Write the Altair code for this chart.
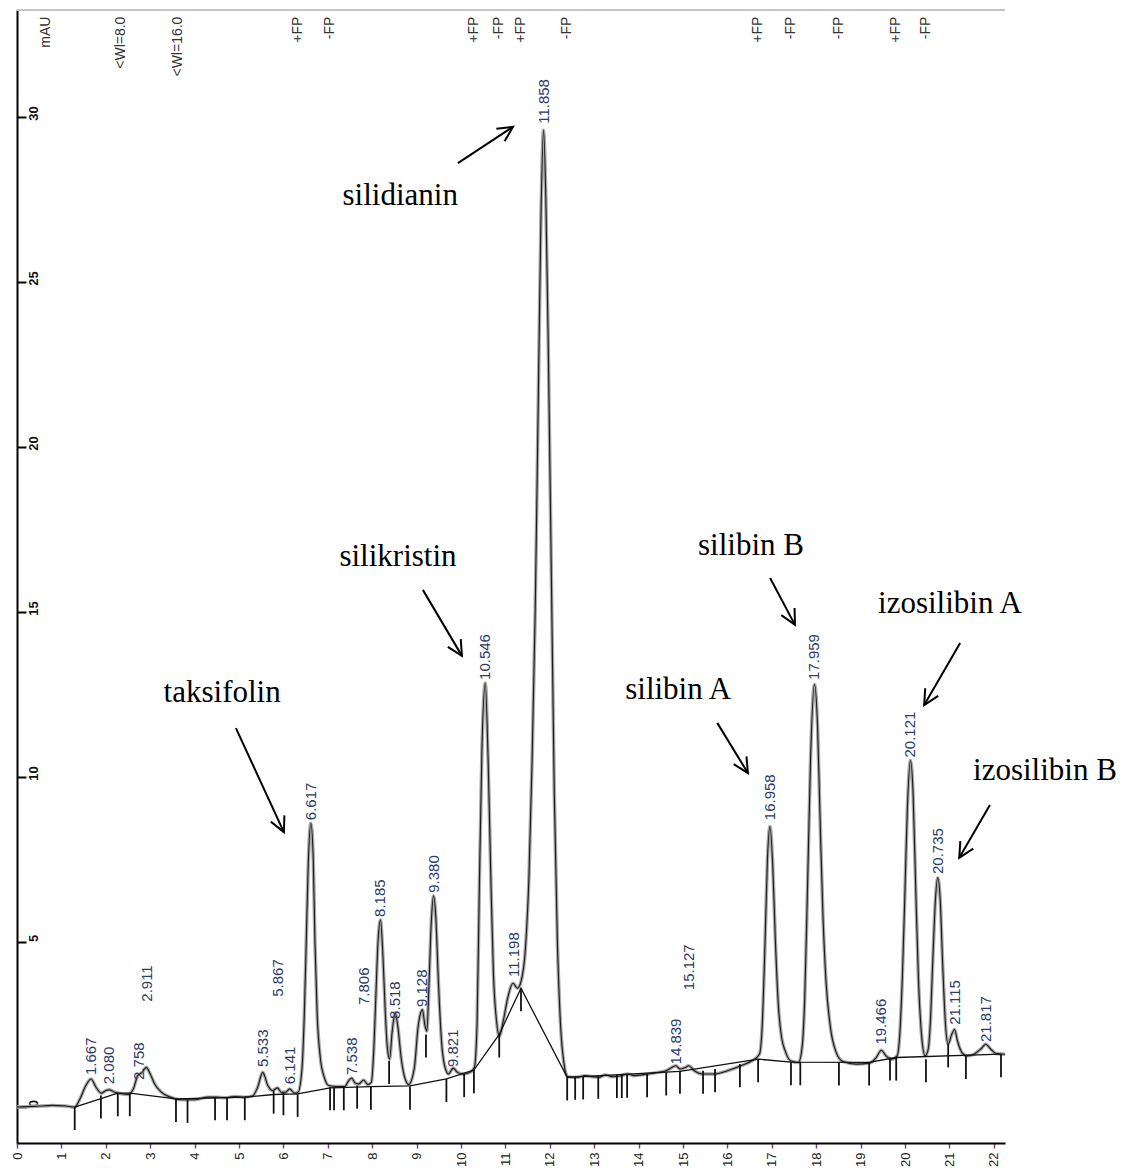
import math
import altair as alt
import pandas as pd

# ---------------- data ----------------
trace_t = [0.0, 0.4, 0.8, 1.1, 1.3, 1.42, 1.55, 1.667, 1.78, 1.9, 2.0, 2.08, 2.2, 2.35, 2.5,
           2.62, 2.72, 2.76, 2.82, 2.91, 3.0, 3.1, 3.25, 3.45, 3.7, 4.0, 4.3, 4.5, 4.7, 4.9,
           5.1, 5.3, 5.42, 5.533, 5.65, 5.75, 5.867, 5.95, 6.05, 6.141, 6.25, 6.33,
           6.42, 6.47, 6.51, 6.56, 6.617, 6.67, 6.71, 6.76, 6.83, 6.92, 7.02,
           7.2, 7.38, 7.47, 7.538, 7.62, 7.7, 7.806, 7.9, 7.98,
           8.03, 8.08, 8.13, 8.185, 8.24, 8.29, 8.34, 8.39, 8.45, 8.518, 8.58, 8.65, 8.72, 8.82,
           8.95, 9.03, 9.09, 9.128, 9.19, 9.23, 9.28, 9.33, 9.38, 9.43, 9.49, 9.56, 9.63, 9.72,
           9.821, 9.92, 10.05, 10.2, 10.3, 10.36, 10.41, 10.47, 10.546, 10.61, 10.67, 10.73, 10.8,
           10.86, 10.95, 11.05, 11.17, 11.27, 11.35, 11.45, 11.53, 11.6, 11.67, 11.74, 11.8,
           11.858, 11.91, 11.97, 12.04, 12.1, 12.17, 12.24, 12.32, 12.4,
           12.6, 12.8, 12.95, 13.1, 13.25, 13.4, 13.6, 13.75, 13.9, 14.2, 14.45, 14.62, 14.75,
           14.839, 14.93, 15.05, 15.127, 15.25, 15.45, 15.7, 16.0, 16.3, 16.55, 16.72,
           16.78, 16.84, 16.9, 16.958, 17.02, 17.08, 17.15, 17.22, 17.3, 17.42,
           17.6, 17.68, 17.74, 17.8, 17.87, 17.959, 18.03, 18.09, 18.15, 18.22, 18.32, 18.45, 18.6,
           18.9, 19.2, 19.35, 19.466, 19.57, 19.7, 19.82,
           19.88, 19.94, 19.99, 20.05, 20.121, 20.18, 20.24, 20.3, 20.37, 20.45,
           20.52, 20.57, 20.62, 20.68, 20.735, 20.79, 20.85, 20.91, 20.97,
           21.05, 21.115, 21.18, 21.28, 21.4, 21.55, 21.7, 21.817, 21.93, 22.05, 22.25]
trace_v = [0.0, 0.02, 0.05, 0.03, 0.0, 0.25, 0.65, 0.85, 0.6, 0.42, 0.5, 0.52, 0.45, 0.4, 0.38,
           0.55, 0.95, 1.0, 1.05, 1.2, 1.0, 0.7, 0.45, 0.3, 0.22, 0.22, 0.3, 0.3, 0.28, 0.32,
           0.3, 0.33, 0.6, 1.05, 0.65, 0.5, 0.58, 0.45, 0.45, 0.55, 0.42, 0.45,
           1.2, 2.8, 4.8, 7.4, 8.6, 7.6, 5.0, 2.8, 1.5, 0.9, 0.65,
           0.62, 0.62, 0.8, 0.88, 0.72, 0.7, 0.82, 0.68, 0.75,
           1.6, 3.3, 5.0, 5.67, 4.6, 3.0, 1.8, 1.45, 2.3, 2.85, 2.4, 1.5, 0.95, 0.68,
           1.2, 2.4, 2.85, 2.95, 2.45, 2.3, 3.8, 5.6, 6.4, 5.8, 3.8, 2.0, 1.25, 1.0,
           1.18, 1.05, 1.0, 1.05, 1.2, 2.5, 6.5, 10.8, 12.85, 10.5, 7.0, 4.0, 2.6,
           2.15, 2.6, 3.3, 3.75, 3.6, 3.8, 4.8, 7.0, 10.5, 15.0, 21.5, 27.0,
           29.6, 27.5, 22.5, 15.5, 9.5, 5.0, 2.5, 1.3, 0.92,
           0.9, 0.95, 0.92, 0.9, 0.97, 0.92, 0.95, 1.0, 0.95, 1.0, 1.05, 1.1, 1.2,
           1.25, 1.15, 1.2, 1.25, 1.1, 1.0, 1.0, 1.1, 1.25, 1.4, 1.6,
           2.4, 4.7, 7.5, 8.5, 7.3, 5.0, 3.0, 2.1, 1.7, 1.4,
           1.35, 1.8, 3.3, 6.5, 10.5, 12.8, 11.5, 8.5, 5.8, 3.8, 2.4, 1.65, 1.38,
           1.3, 1.33, 1.5, 1.72, 1.55, 1.45, 1.55,
           2.2, 4.0, 6.2, 9.0, 10.5, 9.5, 6.6, 3.9, 2.2, 1.55,
           1.75, 2.6, 4.3, 6.2, 6.95, 6.3, 4.2, 2.5, 1.9,
           2.2, 2.35, 2.0, 1.65, 1.55, 1.6, 1.75, 1.9, 1.75, 1.62, 1.6]

# integration baseline drawn under the peaks
base_t = [1.3, 2.27, 2.54, 3.58, 5.13, 5.78, 6.32, 7.05, 7.98, 8.85, 9.67, 10.29, 10.86,
          11.35, 12.39, 14.93, 16.69, 17.43, 19.19, 19.8, 22.16]
base_v = [0.0, 0.42, 0.42, 0.25, 0.3, 0.38, 0.4, 0.58, 0.62, 0.64, 0.85, 1.12, 2.2,
          3.6, 0.9, 1.08, 1.45, 1.36, 1.35, 1.5, 1.6]

# peak start / end markers (time, top of marker)
tick_t = [1.3, 1.89, 2.27, 2.54, 3.58, 3.84, 4.46, 4.73, 5.13, 5.78, 6.0, 6.32, 7.05, 7.14,
          7.36, 7.66, 7.97, 8.38, 8.85, 9.21, 9.67, 10.07, 10.29, 10.86, 11.35, 12.39, 12.57,
          12.75, 13.09, 13.51, 13.62, 13.74, 14.19, 14.62, 14.93, 15.45, 15.72, 16.28, 16.69,
          17.43, 17.64, 18.51, 19.19, 19.66, 19.8, 20.47, 20.97, 21.37, 22.16]
tick_top = [0.0, 0.35, 0.42, 0.42, 0.25, 0.22, 0.3, 0.3, 0.3, 0.5, 0.45, 0.4, 0.6, 0.6,
            0.6, 0.65, 0.62, 1.4, 0.62, 2.2, 0.85, 1.0, 1.12, 2.2, 3.6, 0.9, 0.92,
            0.93, 0.95, 0.97, 0.97, 0.98, 1.0, 1.05, 1.1, 1.1, 1.15, 1.3, 1.45,
            1.36, 1.36, 1.35, 1.35, 1.5, 1.5, 1.45, 1.9, 1.55, 1.6]

# retention-time labels (text, time, height where the label starts)
label_text = ["1.667", "2.080", "2.758", "2.911", "5.533", "5.867", "6.141", "6.617", "7.538",
              "7.806", "8.185", "8.518", "9.128", "9.380", "9.821", "10.546", "11.198", "11.858",
              "14.839", "15.127", "16.958", "17.959", "19.466", "20.121", "20.735", "21.115",
              "21.817"]
label_t = [1.667, 2.08, 2.758, 2.93, 5.533, 5.867, 6.141, 6.617, 7.538,
           7.82, 8.185, 8.518, 9.128, 9.38, 9.821, 10.546, 11.198, 11.858,
           14.839, 15.127, 16.958, 17.959, 19.466, 20.121, 20.735, 21.115, 21.817]
label_y = [0.88, 0.6, 0.73, 3.1, 1.12, 3.25, 0.6, 8.6, 0.88,
           3.0, 5.67, 2.58, 2.94, 6.4, 1.12, 12.85, 3.85, 29.7,
           1.2, 3.45, 8.6, 12.85, 1.8, 10.5, 6.97, 2.4, 1.88]

# event markers along the top
event_text = ["mAU", "<Wl=8.0", "<Wl=16.0", "+FP", "-FP", "+FP", "-FP", "+FP", "-FP",
              "+FP", "-FP", "-FP", "+FP", "-FP"]
event_t = [0.66, 2.35, 3.62, 6.32, 7.05, 10.29, 10.86, 11.35, 12.39,
           16.69, 17.43, 18.51, 19.8, 20.47]

# compound annotations with arrows
ann_text = ["silidianin", "silikristin", "taksifolin", "silibin A", "silibin B",
            "izosilibin A", "izosilibin B"]
ann_t = [8.63, 8.58, 4.62, 14.89, 16.53, 21.01, 23.15]
ann_v = [27.6, 16.67, 12.55, 12.64, 17.0, 15.24, 10.18]
arrow_t1 = [9.93, 9.14, 4.93, 15.77, 16.96, 21.24, 21.91]
arrow_v1 = [28.6, 15.67, 11.48, 11.64, 16.03, 14.06, 9.15]
arrow_t2 = [11.17, 10.02, 6.01, 16.46, 17.52, 20.43, 21.22]
arrow_v2 = [29.7, 13.67, 8.33, 10.12, 14.61, 12.18, 7.55]

x_ticks = list(range(0, 23))
y_ticks = [0, 5, 10, 15, 20, 25, 30]

# ---------------- layout ----------------
W, H = 988, 1133
X_DOMAIN = [0, 22.25]
Y_DOMAIN = [-1.09, 33.24]
xs = alt.Scale(domain=X_DOMAIN, nice=False, zero=False)
ys = alt.Scale(domain=Y_DOMAIN, nice=False, zero=False)
PX_T = W / (X_DOMAIN[1] - X_DOMAIN[0])
PX_V = H / (Y_DOMAIN[1] - Y_DOMAIN[0])

trace_df = pd.DataFrame({"t": trace_t, "v": trace_v})
base_df = pd.DataFrame({"t": base_t, "v": base_v})
tick_df = pd.DataFrame({"t": tick_t, "top": tick_top})
tick_df["bot"] = tick_df["top"] - 0.7
label_df = pd.DataFrame({"text": label_text, "t": label_t, "v": label_y})
event_df = pd.DataFrame({"text": event_text, "t": event_t})
event_df["v"] = Y_DOMAIN[1] - 0.2
ann_df = pd.DataFrame({"text": ann_text, "t": ann_t, "v": ann_v})
arrow_df = pd.DataFrame({"t1": arrow_t1, "v1": arrow_v1, "t2": arrow_t2, "v2": arrow_v2})
arrow_df["ang"] = [
    math.degrees(math.atan2((b - a) * PX_T, (d - c) * PX_V)) % 360
    for a, b, c, d in zip(arrow_t1, arrow_t2, arrow_v1, arrow_v2)
]

x_axis = alt.Axis(values=x_ticks, labelAngle=270, labelAlign="right", labelBaseline="middle",
                  labelPadding=4, tickSize=5, tickColor="#7a3f9a", tickWidth=1.5,
                  domainColor="black", domainWidth=2, labelFontSize=13, labelColor="#222222",
                  labelFont="Liberation Sans", labelFlush=False, labelOverlap=False,
                  title=None, grid=False)
y_axis = alt.Axis(orient="right", offset=-W, values=y_ticks, labelAngle=270,
                  labelAlign="center", labelBaseline="top", labelPadding=1, labelOffset=-4,
                  tickSize=9, tickWidth=2, tickColor="black", domainColor="black",
                  domainWidth=2, labelFontSize=13, labelFontWeight="bold",
                  labelFont="Liberation Sans", labelColor="#111111", labelFlush=False,
                  labelOverlap=False, title=None, grid=False)


def X(field):
    return alt.X(field, scale=xs, axis=x_axis)


def Y(field):
    return alt.Y(field, scale=ys, axis=y_axis)


top_border = alt.Chart(pd.DataFrame({"a": [0]})).mark_rule(
    color="#c4c4c4", strokeWidth=2).encode(x=alt.value(0), x2=alt.value(W), y=alt.value(0))

halo = alt.Chart(trace_df).mark_line(color="#a8a8a8", strokeWidth=3.5,
                                     interpolate="monotone").encode(x=X("t:Q"), y=Y("v:Q"))
core = alt.Chart(trace_df).mark_line(color="#1a1a1a", strokeWidth=1.1,
                                     interpolate="monotone").encode(x=X("t:Q"), y=Y("v:Q"))
baseline = alt.Chart(base_df).mark_line(color="#111111", strokeWidth=1.3).encode(
    x=X("t:Q"), y=Y("v:Q"))
ticks = alt.Chart(tick_df).mark_rule(color="#111111", strokeWidth=1.8).encode(
    x=X("t:Q"), y=Y("top:Q"), y2="bot:Q")
labels = alt.Chart(label_df).mark_text(angle=270, align="left", baseline="middle", dx=3,
                                       fontSize=15, font="Liberation Sans",
                                       color="#2c3b6a").encode(
    x=X("t:Q"), y=Y("v:Q"), text="text:N")
events = alt.Chart(event_df).mark_text(angle=270, align="right", baseline="middle",
                                       fontSize=14, font="Liberation Sans",
                                       color="#333333").encode(
    x=X("t:Q"), y=Y("v:Q"), text="text:N")
ann = alt.Chart(ann_df).mark_text(align="center", baseline="middle", fontSize=31,
                                  font="Liberation Serif", color="black").encode(
    x=X("t:Q"), y=Y("v:Q"), text="text:N")
shafts = alt.Chart(arrow_df).mark_rule(color="black", strokeWidth=2).encode(
    x=X("t1:Q"), y=Y("v1:Q"), x2="t2:Q", y2="v2:Q")
heads = alt.Chart(arrow_df).mark_point(shape="M-0.5,1L0,0L0.5,1", filled=False, size=900,
                                       strokeWidth=2, color="black", opacity=1).encode(
    x=X("t2:Q"), y=Y("v2:Q"), angle=alt.Angle("ang:Q", scale=None))

chart = alt.layer(top_border, halo, core, baseline, ticks, labels, events, ann, shafts, heads).properties(
    width=W, height=H,
    autosize=alt.AutoSizeParams(type="none"),
    padding={"left": 17, "top": 10, "right": 126, "bottom": 25},
    background="white",
).configure_view(stroke=None)

chart.save("out.html", embed_options={"renderer": "svg", "actions": False})
